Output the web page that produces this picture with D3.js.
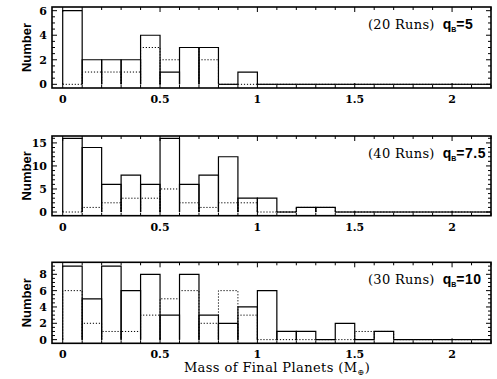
<!DOCTYPE html>
<html>
<head>
<meta charset="utf-8">
<script src="https://cdn.jsdelivr.net/npm/d3@7"></script>
<style>
  body { margin: 0; background: #fff; }
  svg { display: block; }
</style>
</head>
<body>
<div id="chart"></div>
<script>
// bin left edges (Earth masses), bins are 0.1 wide
var binStart = [0, 0.1, 0.2, 0.3, 0.4, 0.5, 0.6, 0.7, 0.8, 0.9, 1.0,
                1.1, 1.2, 1.3, 1.4, 1.5, 1.6, 1.7, 1.8, 1.9, 2.0, 2.1];
var binWidth = 0.1;

// q_B = 5 (20 runs)
var q5Solid  = [6, 2, 2, 2, 4, 1, 3, 3, 0, 1, 0, 0, 0, 0, 0, 0, 0, 0, 0, 0, 0, 0];
var q5Dotted = [0, 1, 1, 1, 3, 2, 3, 2, 0, 0, 0, 0, 0, 0, 0, 0, 0, 0, 0, 0, 0, 0];
// q_B = 7.5 (40 runs)
var q75Solid  = [16, 14, 6, 8, 6, 16, 6, 8, 12, 3, 3, 0, 1, 1, 0, 0, 0, 0, 0, 0, 0, 0];
var q75Dotted = [0, 1, 2, 3, 3, 5, 2, 1, 2, 2, 0, 0, 1, 1, 0, 0, 0, 0, 0, 0, 0, 0];
// q_B = 10 (30 runs)
var q10Solid  = [9, 5, 9, 6, 8, 3, 8, 3, 2, 4, 6, 1, 1, 0, 2, 0, 1, 0, 0, 0, 0, 0];
var q10Dotted = [6, 2, 1, 1, 3, 5, 6, 2, 6, 3, 0, 0, 0, 0, 0, 1, 1, 0, 0, 0, 0, 0];

var xTicks = [0, 0.5, 1, 1.5, 2];

var panels = [
  { runs: "(20 Runs)", q: "5",   solid: q5Solid,  dotted: q5Dotted,
    top: 7,     bottom: 88,    domain: [-0.3, 6.3],  major: [0, 2, 4, 6],        minor: 0.5 },
  { runs: "(40 Runs)", q: "7.5", solid: q75Solid, dotted: q75Dotted,
    top: 136,   bottom: 215.7, domain: [-0.8, 16.5], major: [0, 5, 10, 15],      minor: 1 },
  { runs: "(30 Runs)", q: "10",  solid: q10Solid, dotted: q10Dotted,
    top: 262.3, bottom: 343.3, domain: [-0.45, 9.47], major: [0, 2, 4, 6, 8],    minor: 0.5 }
];

var W = 497, H = 379;
var left = 52, right = 491;
var serif = "'DejaVu Serif', serif";
var sans = "'Liberation Sans', Arial, sans-serif";

var svg = d3.select("#chart").append("svg")
  .attr("width", W)
  .attr("height", H);

var x = d3.scaleLinear().domain([-0.055, 2.2]).range([left, right]);

// minor x ticks every 0.1
var xMinor = d3.range(0, 23).map(function (i) { return i / 10; });

panels.forEach(function (p) {
  var y = d3.scaleLinear().domain(p.domain).range([p.bottom, p.top]);
  var g = svg.append("g");

  function barPath(v, i) {
    var x0 = x(binStart[i]), x1 = x(binStart[i] + binWidth);
    return "M" + x0 + "," + y(0) + "V" + y(v) + "H" + x1 + "V" + y(0);
  }

  // dotted histogram first, solid on top
  g.selectAll("path.dot")
    .data(p.dotted)
    .enter().append("path")
    .attr("class", "dot")
    .attr("d", barPath)
    .attr("fill", "none")
    .attr("stroke", "#000")
    .attr("stroke-width", 1)
    .attr("stroke-dasharray", "1.2,1.8");

  g.selectAll("path.solid")
    .data(p.solid)
    .enter().append("path")
    .attr("class", "solid")
    .attr("d", barPath)
    .attr("fill", "none")
    .attr("stroke", "#000")
    .attr("stroke-width", 1.2);

  // frame
  g.append("rect")
    .attr("x", left)
    .attr("y", p.top)
    .attr("width", right - left)
    .attr("height", p.bottom - p.top)
    .attr("fill", "none")
    .attr("stroke", "#000")
    .attr("stroke-width", 1.6);

  // x ticks, bottom and top, pointing in
  xMinor.forEach(function (t) {
    var isMajor = xTicks.some(function (m) { return Math.abs(m - t) < 1e-9; });
    var len = isMajor ? 5 : 3;
    g.append("line")
      .attr("x1", x(t)).attr("x2", x(t))
      .attr("y1", p.bottom).attr("y2", p.bottom - len)
      .attr("stroke", "#000").attr("stroke-width", 1);
    g.append("line")
      .attr("x1", x(t)).attr("x2", x(t))
      .attr("y1", p.top).attr("y2", p.top + len)
      .attr("stroke", "#000").attr("stroke-width", 1);
  });

  g.selectAll("text.xt")
    .data(xTicks)
    .enter().append("text")
    .attr("class", "xt")
    .attr("x", function (d) { return x(d); })
    .attr("y", p.bottom + 15)
    .attr("text-anchor", "middle")
    .attr("font-family", serif)
    .attr("font-size", "11px")
    .attr("font-weight", "bold")
    .text(function (d) { return d; });

  // y ticks, left and right
  var yMinor = d3.range(0, p.domain[1] + 1e-9, p.minor);
  yMinor.forEach(function (t) {
    var isMajor = p.major.indexOf(t) >= 0;
    var len = isMajor ? 5 : 3;
    g.append("line")
      .attr("x1", left).attr("x2", left + len)
      .attr("y1", y(t)).attr("y2", y(t))
      .attr("stroke", "#000").attr("stroke-width", 1);
    g.append("line")
      .attr("x1", right).attr("x2", right - len)
      .attr("y1", y(t)).attr("y2", y(t))
      .attr("stroke", "#000").attr("stroke-width", 1);
  });

  g.selectAll("text.yt")
    .data(p.major)
    .enter().append("text")
    .attr("class", "yt")
    .attr("x", left - 5)
    .attr("y", function (d) { return y(d) + 4; })
    .attr("text-anchor", "end")
    .attr("font-family", serif)
    .attr("font-size", "11px")
    .attr("font-weight", "bold")
    .text(function (d) { return d; });

  // y title
  var cy = (p.top + p.bottom) / 2;
  g.append("text")
    .attr("transform", "translate(31," + cy + ") rotate(-90)")
    .attr("text-anchor", "middle")
    .attr("font-family", sans)
    .attr("font-size", "13px")
    .attr("font-weight", "bold")
    .text("Number");

  // annotation
  var ann = g.append("text")
    .attr("x", 368)
    .attr("y", p.top + 22)
    .attr("font-size", "13px");
  ann.append("tspan")
    .attr("font-family", serif)
    .attr("letter-spacing", "0.3px")
    .text(p.runs);
  ann.append("tspan")
    .attr("font-family", sans)
    .attr("font-weight", "bold")
    .attr("font-size", "14px")
    .attr("dx", 8)
    .text("q");
  ann.append("tspan")
    .attr("font-family", sans)
    .attr("font-weight", "bold")
    .attr("font-size", "7px")
    .attr("dy", 3)
    .text("B");
  ann.append("tspan")
    .attr("font-family", sans)
    .attr("font-weight", "bold")
    .attr("font-size", "14px")
    .attr("letter-spacing", "0.5px")
    .attr("dy", -3)
    .text("=" + p.q);
});

// x title
var xt = svg.append("text")
  .attr("x", 277)
  .attr("y", 372)
  .attr("text-anchor", "middle")
  .attr("font-family", serif)
  .attr("font-size", "13px")
  .attr("letter-spacing", "0.4px");
xt.append("tspan").text("Mass of Final Planets (M");
xt.append("tspan").attr("font-size", "8px").attr("dy", 3).text("⊕");
xt.append("tspan").attr("dy", -3).text(")");
</script>
</body>
</html>
